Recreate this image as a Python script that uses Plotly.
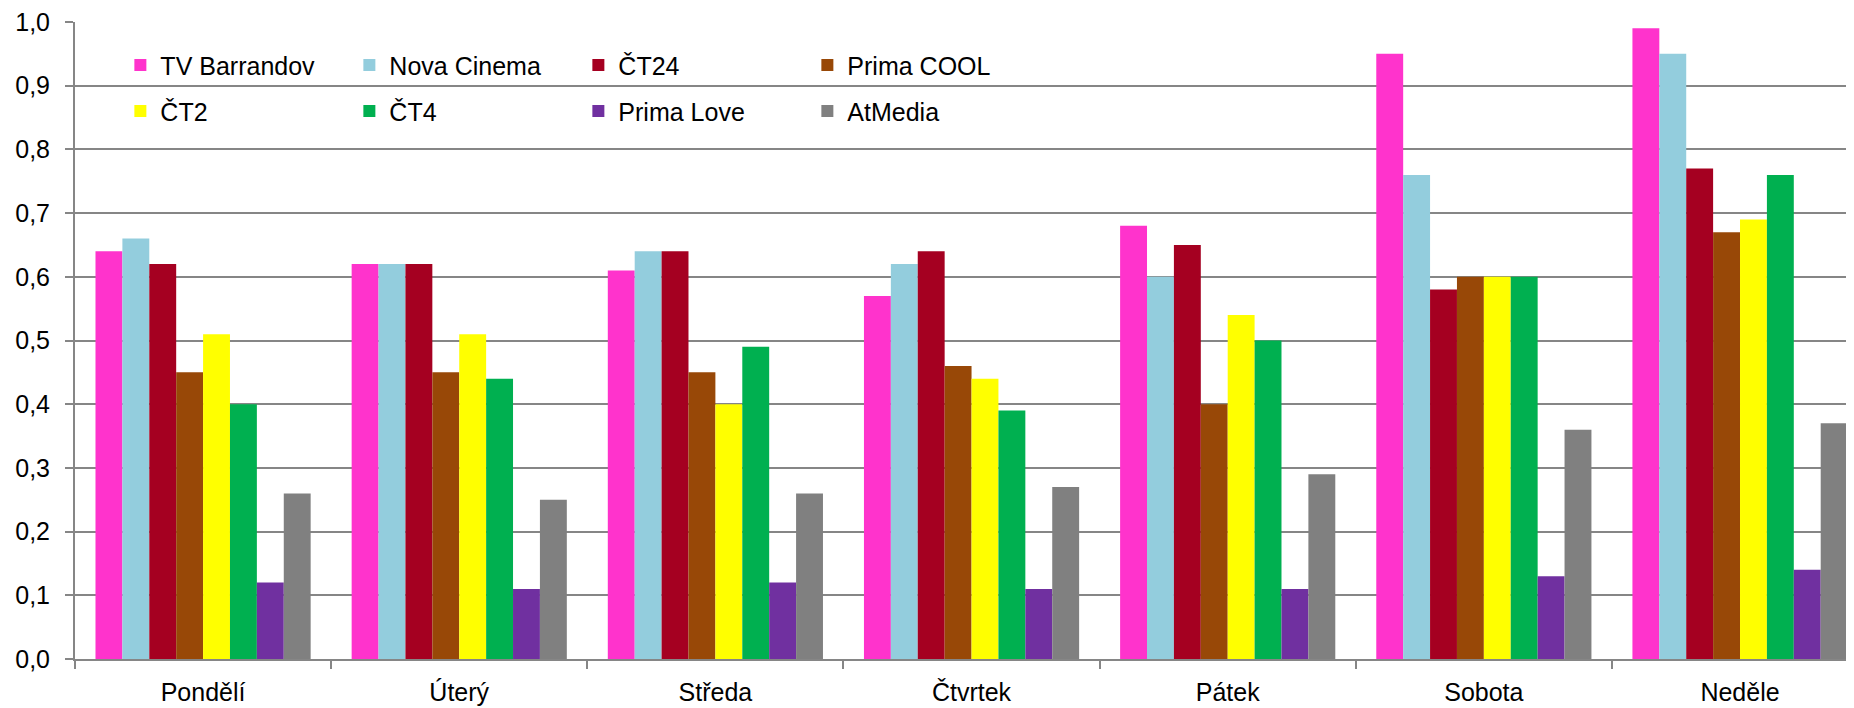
import plotly.graph_objects as go

days = ["Pondělí", "Úterý", "Středa", "Čtvrtek", "Pátek", "Sobota", "Neděle"]

tv_barrandov = [0.64, 0.62, 0.61, 0.57, 0.68, 0.95, 0.99]
nova_cinema = [0.66, 0.62, 0.64, 0.62, 0.60, 0.76, 0.95]
ct24 = [0.62, 0.62, 0.64, 0.64, 0.65, 0.58, 0.77]
prima_cool = [0.45, 0.45, 0.45, 0.46, 0.40, 0.60, 0.67]
ct2 = [0.51, 0.51, 0.40, 0.44, 0.54, 0.60, 0.69]
ct4 = [0.40, 0.44, 0.49, 0.39, 0.50, 0.60, 0.76]
prima_love = [0.12, 0.11, 0.12, 0.11, 0.11, 0.13, 0.14]
atmedia = [0.26, 0.25, 0.26, 0.27, 0.29, 0.36, 0.37]

series = [
    ("TV Barrandov", tv_barrandov, "#FF33CC", "legend"),
    ("Nova Cinema", nova_cinema, "#93CDDD", "legend"),
    ("ČT24", ct24, "#A50021", "legend"),
    ("Prima COOL", prima_cool, "#984807", "legend"),
    ("ČT2", ct2, "#FFFF00", "legend2"),
    ("ČT4", ct4, "#00B050", "legend2"),
    ("Prima Love", prima_love, "#7030A0", "legend2"),
    ("AtMedia", atmedia, "#808080", "legend2"),
]

FONT = "Liberation Sans, Arial, sans-serif"

fig = go.Figure()
for name, vals, color, lg in series:
    fig.add_trace(go.Bar(
        x=days, y=vals, name=name, legend=lg,
        marker=dict(color=color, line=dict(width=0)),
    ))

legend_common = dict(
    orientation="h", xanchor="left", yanchor="middle",
    entrywidth=184, entrywidthmode="pixels",
    bgcolor="rgba(0,0,0,0)", borderwidth=0,
    font=dict(family=FONT, size=25, color="#000000"),
    itemwidth=30, traceorder="normal",
)

# page body has an 8px default margin, so the figure is offset by 8px
fig.update_layout(
    width=1846, height=700,
    margin=dict(l=67, r=0, t=14, b=49, autoexpand=False),
    paper_bgcolor="white", plot_bgcolor="white",
    barmode="group", bargap=0.16, bargroupgap=0,
    separators=", ",
    font=dict(family=FONT, size=25, color="#000000"),
    legend=dict(x=0.0255, y=0.932, **legend_common),
    legend2=dict(x=0.0255, y=0.86, **legend_common),
    xaxis=dict(
        range=[-0.5, 6.445], automargin=False,
        showline=True, linecolor="#868686", linewidth=2,
        ticks="outside", tickson="boundaries", ticklen=8, tickcolor="#868686", tickwidth=2,
        showgrid=False, zeroline=False,
        tickfont=dict(family=FONT, size=25, color="#000000"),
        ticklabelstandoff=10, ticklabeloverflow="allow",
    ),
    yaxis=dict(
        range=[0, 1.0], dtick=0.1, tickformat=".1f", automargin=False,
        showline=True, linecolor="#868686", linewidth=2,
        ticks="outside", ticklen=8, tickcolor="#868686", tickwidth=2,
        showgrid=True, gridcolor="#868686", gridwidth=2,
        zeroline=False,
        tickfont=dict(family=FONT, size=25, color="#000000"),
        ticklabelstandoff=10, ticklabeloverflow="allow",
    ),
    showlegend=True,
)

fig.write_html("out.html")
